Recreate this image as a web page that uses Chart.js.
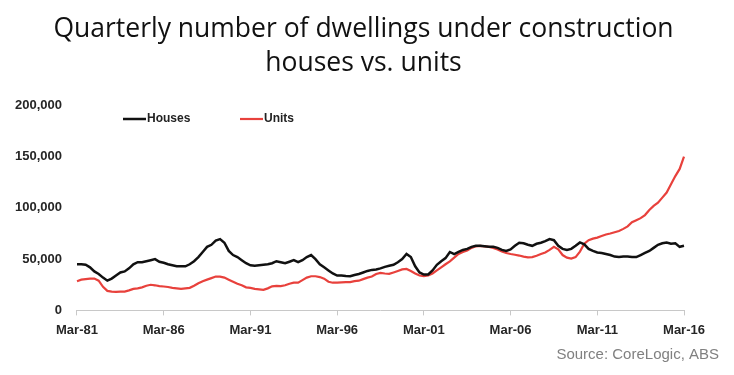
<!DOCTYPE html>
<html>
<head>
    <title>Dwellings under construction</title>
    <style>
        body {
            margin: 0;
            background: #ffffff;
        }

        #chart-wrap {
            width: 734px;
            height: 375px;
        }
    </style>
    <script src="https://cdn.jsdelivr.net/npm/chart.js"></script>
</head>
<body>
    <div id="chart-wrap">
        <canvas id="dwellings-chart" width="734" height="375"></canvas>
    </div>
    <script>
        // quarters from Mar-81 to Mar-16
        const quarterMonths = ['Mar', 'Jun', 'Sep', 'Dec'];
        const quarters = [];
        for (let y = 1981; y <= 2016; y++) {
            for (const m of quarterMonths) {
                if (y === 2016 && m !== 'Mar') break;
                quarters.push(m + '-' + String(y).slice(2));
            }
        }

        const tickLabels = ['Mar-81', 'Mar-86', 'Mar-91', 'Mar-96', 'Mar-01', 'Mar-06', 'Mar-11', 'Mar-16'];
        const yTicks = [0, 50000, 100000, 150000, 200000];

        // values, in thousands
        const houses = [
            45, 45, 44.5, 42, 38, 35.5, 32, 29, 31, 34,
            37, 38, 41, 45, 47, 47, 48, 49, 50, 47.5,
            46.5, 45, 44, 43, 43, 43, 45, 48, 52, 57,
            62, 64, 68, 69.5, 66, 58, 54, 52, 49, 46,
            44, 43.5, 44, 44.5, 45, 46, 48, 47, 46, 47.5,
            49, 47, 49, 52, 54, 50, 45, 42, 39, 36,
            34, 34, 33.5, 33.3, 34.5, 35.5, 37, 38.5, 39.5, 40,
            41, 42.5, 43.5, 44.5, 47, 50, 55, 52, 43, 37,
            35, 35, 39, 44.5, 48, 51, 57, 55, 57, 59,
            60, 62, 63, 63, 62.5, 62, 62, 61, 59, 58,
            59.5, 63, 66, 65.5, 64, 63, 65, 66, 67.5, 69.5,
            68.5, 63, 60, 59, 60, 63, 66.3, 64.5, 60, 58,
            56.5, 56, 55, 54, 52.5, 52, 52.5, 52.6, 52, 52,
            54, 56, 58, 61, 64, 65.5, 66.3, 65, 65.5, 62,
            63
        ];

        const units = [
            28.5, 30, 30.5, 31, 31, 29, 23, 19, 18.3, 18,
            18.3, 18.3, 19.5, 21, 21.5, 22.5, 24, 25, 24.5, 23.7,
            23.3, 22.8, 22, 21.5, 21, 21.5, 22, 24, 26.5, 28.5,
            30, 31.5, 33, 33, 32, 30, 28, 26, 24.5, 22.5,
            22, 21, 20.5, 20, 21.5, 23.5, 24, 23.7, 24.5, 26,
            27, 27, 29.5, 32, 33.3, 33.3, 32.5, 31, 28, 27,
            27, 27.3, 27.5, 27.6, 28.5, 29, 30.5, 32, 33, 35.5,
            36.5, 36, 35.6, 37, 38.5, 40, 40.5, 38.5, 36, 34,
            33.5, 34, 36, 39, 42, 45, 47.8, 51.5, 55, 57,
            58.5, 61, 62.5, 63, 62.5, 62, 61, 59.5, 57.5, 56,
            55, 54.3, 53.5, 52.5, 51.8, 52, 53.3, 55, 56.5, 59,
            62, 59.5, 54, 51.5, 50.5, 52, 57.4, 65, 68.5, 70,
            71, 72.5, 74, 75, 76.3, 77.5, 79.5, 82, 86, 88,
            90, 93, 98, 102, 105, 110, 115, 123, 131, 138,
            150
        ];

        // legend drawn inside the plot, like the original
        const insideLegend = {
            id: 'insideLegend',
            afterDraw(chart) {
                const ctx = chart.ctx;
                const area = chart.chartArea;
                const y = 119;
                let x = area.left + 46;
                ctx.save();
                ctx.font = 'bold 12px "Liberation Sans", Arial, sans-serif';
                ctx.textBaseline = 'middle';
                chart.data.datasets.forEach((ds, i) => {
                    ctx.strokeStyle = ds.borderColor;
                    ctx.lineWidth = ds.borderWidth;
                    ctx.beginPath();
                    ctx.moveTo(x, y);
                    ctx.lineTo(x + 23, y);
                    ctx.stroke();
                    ctx.fillStyle = '#222222';
                    ctx.fillText(ds.label, x + 24, y);
                    x += 117;
                });
                ctx.restore();
            }
        };

        const ctx = document.getElementById('dwellings-chart').getContext('2d');
        const chart = new Chart(ctx, {
            type: 'line',
            data: {
                labels: quarters,
                datasets: [{
                    label: 'Houses',
                    data: houses.map(v => v * 1000),
                    borderColor: '#111111',
                    borderWidth: 2.5,
                    pointRadius: 0,
                    tension: 0
                }, {
                    label: 'Units',
                    data: units.map(v => v * 1000),
                    borderColor: '#e8413c',
                    borderWidth: 2.2,
                    pointRadius: 0,
                    tension: 0
                }]
            },
            options: {
                responsive: false,
                animation: false,
                layout: {
                    padding: { left: 8, right: 15, top: 0, bottom: 0 }
                },
                scales: {
                    x: {
                        type: 'category',
                        grid: {
                            drawOnChartArea: false,
                            drawTicks: true,
                            tickLength: 5,
                            color: c => tickLabels.includes(quarters[c.index]) ? '#c8c8c8' : 'rgba(0,0,0,0)'
                        },
                        border: { color: '#c8c8c8', width: 1 },
                        ticks: {
                            autoSkip: false,
                            maxRotation: 0,
                            padding: 7,
                            color: '#262626',
                            font: { family: '"Liberation Sans", Arial, sans-serif', size: 13, weight: 'bold' },
                            callback: (v, i) => tickLabels.includes(quarters[i]) ? quarters[i] : ''
                        }
                    },
                    y: {
                        min: 0,
                        max: 200000,
                        grid: { display: false },
                        border: { display: false },
                        afterBuildTicks: s => { s.ticks = yTicks.map(v => ({ value: v })); },
                        ticks: {
                            padding: 7,
                            color: '#262626',
                            font: { family: '"Liberation Sans", Arial, sans-serif', size: 13, weight: 'bold' },
                            callback: v => v.toLocaleString('en-US')
                        }
                    },
                    // empty right axis, only keeps the plot clear of the source note
                    yRight: {
                        position: 'right',
                        min: 0,
                        max: 200000,
                        grid: { display: false },
                        border: { display: false },
                        ticks: { display: false },
                        afterFit: s => { s.width = 35; }
                    }
                },
                plugins: {
                    legend: { display: false },
                    tooltip: { enabled: false },
                    title: {
                        display: true,
                        text: ['Quarterly number of dwellings under construction', 'houses vs. units'],
                        color: '#111111',
                        font: { family: '"Open Sans", sans-serif', size: 26.5, weight: 'normal', lineHeight: 1.29 },
                        padding: { top: 12, bottom: 25 }
                    },
                    subtitle: {
                        display: true,
                        position: 'bottom',
                        align: 'end',
                        text: 'Source: CoreLogic, ABS',
                        color: '#808080',
                        font: { family: '"Liberation Sans", Arial, sans-serif', size: 15, weight: 'normal' },
                        padding: { top: 1, bottom: 11 }
                    }
                }
            },
            plugins: [insideLegend]
        });
    </script>
</body>
</html>
